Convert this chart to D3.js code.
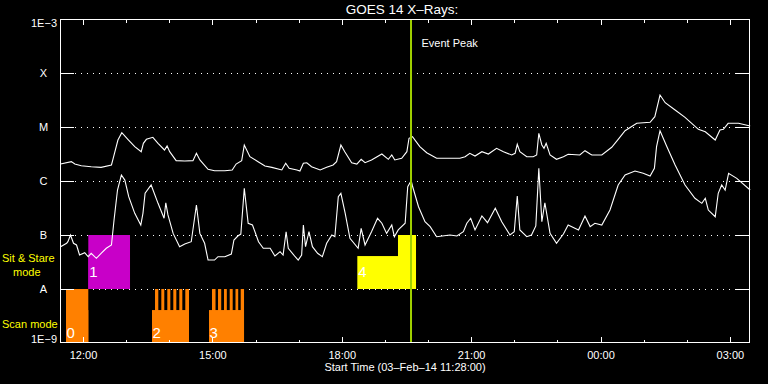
<!DOCTYPE html>
<html>
<head>
<meta charset="utf-8">
<script src="https://cdn.jsdelivr.net/npm/d3@7"></script>
<style>
    body { margin: 0; background: #000; }
    svg { display: block; font-family: "Liberation Sans", Arial, sans-serif; }
</style>
</head>
<body>
<div id="chart"></div>
<script>
// times are decimal hours UT counted from 03-Feb-2014 00:00
const startHour = 11 + 28 / 60;
const spanHours = 16;
const eventPeakHour = 19.606;

// GOES 14, 1-8 A channel [hour, W/m^2]
const longChannel = [
    [11.48, 2.06e-6], [11.73, 2.28e-6], [11.81, 2.06e-6], [11.96, 1.92e-6], [12.19, 1.84e-6],
    [12.42, 1.79e-6], [12.66, 1.98e-6], [12.70, 2.63e-6], [12.81, 5.74e-6], [12.90, 7.84e-6],
    [13.04, 5.92e-6], [13.20, 4.32e-6], [13.35, 3.49e-6], [13.40, 4.99e-6], [13.47, 5.92e-6],
    [13.62, 6.44e-6], [13.74, 4.99e-6], [13.89, 3.75e-6], [13.95, 4.45e-6], [14.01, 3.49e-6],
    [14.16, 2.38e-6], [14.36, 2.35e-6], [14.55, 2.38e-6], [14.63, 3.26e-6], [14.71, 2.45e-6],
    [14.90, 1.65e-6], [15.05, 1.55e-6], [15.29, 1.55e-6], [15.46, 1.60e-6], [15.55, 2.06e-6],
    [15.68, 2.38e-6], [15.74, 4.64e-6], [15.87, 2.82e-6], [16.06, 2.28e-6], [16.22, 1.90e-6],
    [16.38, 1.79e-6], [16.61, 1.60e-6], [16.70, 2.13e-6], [16.78, 1.72e-6], [16.96, 1.60e-6],
    [17.03, 1.53e-6], [17.11, 2.13e-6], [17.19, 2.18e-6], [17.30, 1.84e-6], [17.50, 1.60e-6],
    [17.65, 1.79e-6], [17.80, 1.98e-6], [17.88, 2.28e-6], [17.98, 4.64e-6], [18.07, 3.49e-6],
    [18.23, 2.18e-6], [18.35, 2.06e-6], [18.45, 2.52e-6], [18.54, 2.18e-6], [18.69, 2.45e-6],
    [18.93, 3.16e-6], [19.08, 2.52e-6], [19.16, 3.03e-6], [19.23, 2.45e-6], [19.39, 2.63e-6],
    [19.51, 3.49e-6], [19.56, 6.18e-6], [19.64, 6.60e-6], [19.81, 4.32e-6], [19.97, 3.34e-6],
    [20.20, 2.63e-6], [20.74, 2.63e-6], [20.86, 2.82e-6], [20.97, 3.26e-6], [21.09, 2.90e-6],
    [21.25, 3.49e-6], [21.40, 3.16e-6], [21.59, 4.03e-6], [21.75, 3.49e-6], [21.94, 3.03e-6],
    [22.02, 3.26e-6], [22.07, 4.78e-6], [22.13, 3.49e-6], [22.29, 2.82e-6], [22.44, 2.82e-6],
    [22.52, 3.03e-6], [22.57, 7.64e-6], [22.64, 4.64e-6], [22.69, 4.03e-6], [22.74, 4.99e-6],
    [22.83, 3.03e-6], [22.98, 2.52e-6], [23.14, 2.82e-6], [23.25, 3.12e-6], [23.52, 3.03e-6],
    [23.64, 3.64e-6], [23.76, 3.16e-6], [23.80, 3.03e-6], [24.03, 3.03e-6], [24.26, 4.21e-6],
    [24.41, 5.92e-6], [24.57, 8.53e-6], [24.84, 1.17e-5], [25.15, 1.22e-5], [25.26, 1.55e-5],
    [25.38, 3.91e-5], [25.50, 2.82e-5], [25.73, 2.06e-5], [25.96, 1.51e-5], [26.27, 9.06e-6],
    [26.43, 8.18e-6], [26.66, 5.74e-6], [26.77, 8.80e-6], [26.85, 9.06e-6], [26.96, 1.17e-5],
    [27.20, 1.17e-5], [27.47, 1.04e-5]
];

// GOES 14, 0.5-4 A channel
const shortChannel = [
    [11.48, 6.07e-8], [11.62, 7.02e-8], [11.65, 7.51e-8], [11.71, 1.00e-7], [11.78, 7.02e-8],
    [11.85, 6.53e-8], [11.92, 4.26e-8], [12.04, 4.70e-8], [12.12, 3.96e-8], [12.19, 4.58e-8],
    [12.31, 3.70e-8], [12.42, 4.58e-8], [12.54, 5.67e-8], [12.66, 6.53e-8], [12.72, 1.90e-7],
    [12.80, 6.81e-7], [12.89, 1.29e-6], [12.97, 1.04e-6], [13.06, 5.12e-7], [13.20, 2.52e-7],
    [13.34, 1.53e-7], [13.39, 2.52e-7], [13.44, 5.92e-7], [13.58, 8.43e-7], [13.74, 3.86e-7],
    [13.88, 2.04e-7], [13.92, 3.96e-7], [13.97, 2.35e-7], [14.09, 1.07e-7], [14.24, 6.07e-8],
    [14.36, 6.81e-8], [14.51, 7.51e-8], [14.63, 3.59e-7], [14.71, 1.07e-7], [14.82, 7.02e-8],
    [14.90, 3.44e-8], [15.05, 3.44e-8], [15.13, 3.96e-8], [15.29, 3.96e-8], [15.44, 4.45e-8],
    [15.50, 8.08e-8], [15.59, 9.58e-8], [15.66, 1.04e-7], [15.74, 7.32e-7], [15.83, 1.65e-7],
    [15.93, 1.53e-7], [16.07, 7.51e-8], [16.18, 5.67e-8], [16.34, 5.67e-8], [16.45, 4.08e-8],
    [16.57, 4.91e-8], [16.64, 4.26e-8], [16.71, 1.15e-7], [16.76, 5.67e-8], [16.92, 3.96e-8],
    [16.99, 3.44e-8], [17.07, 4.26e-8], [17.11, 1.53e-7], [17.16, 6.07e-8], [17.24, 1.15e-7],
    [17.32, 6.07e-8], [17.44, 4.58e-8], [17.55, 3.96e-8], [17.65, 7.02e-8], [17.77, 1.00e-7],
    [17.84, 9.30e-8], [17.92, 5.12e-7], [17.98, 5.92e-7], [18.08, 2.52e-7], [18.19, 8.69e-8],
    [18.38, 5.67e-8], [18.45, 1.33e-7], [18.54, 6.53e-8], [18.69, 1.15e-7], [18.83, 2.04e-7],
    [18.93, 1.65e-7], [19.04, 1.07e-7], [19.16, 1.53e-7], [19.22, 9.30e-8], [19.31, 1.24e-7],
    [19.47, 1.65e-7], [19.53, 7.84e-7], [19.61, 1.01e-6], [19.64, 8.08e-7], [19.78, 3.34e-7],
    [19.93, 1.76e-7], [20.05, 1.43e-7], [20.20, 9.30e-8], [20.51, 1.00e-7], [20.67, 9.58e-8],
    [20.82, 1.15e-7], [20.90, 1.65e-7], [20.99, 2.04e-7], [21.09, 1.24e-7], [21.25, 2.25e-7],
    [21.38, 1.69e-7], [21.56, 3.12e-7], [21.71, 1.76e-7], [21.90, 1.00e-7], [22.00, 1.15e-7],
    [22.07, 5.27e-7], [22.13, 1.24e-7], [22.29, 9.30e-8], [22.40, 1.00e-7], [22.50, 1.47e-7],
    [22.57, 1.72e-6], [22.64, 1.76e-7], [22.71, 3.96e-7], [22.83, 1.07e-7], [22.98, 7.02e-8],
    [23.14, 1.04e-7], [23.25, 1.53e-7], [23.49, 1.24e-7], [23.64, 2.25e-7], [23.76, 1.43e-7],
    [23.87, 1.65e-7], [24.03, 1.53e-7], [24.22, 2.90e-7], [24.41, 8.43e-7], [24.57, 1.29e-6],
    [24.80, 1.53e-6], [24.99, 1.39e-6], [25.15, 1.24e-6], [25.25, 1.72e-6], [25.30, 4.32e-6],
    [25.38, 8.53e-6], [25.54, 4.32e-6], [25.73, 1.98e-6], [25.96, 8.43e-7], [26.19, 4.78e-7],
    [26.35, 3.86e-7], [26.43, 4.78e-7], [26.50, 2.90e-7], [26.66, 2.18e-7], [26.73, 5.92e-7],
    [26.81, 8.43e-7], [26.89, 6.81e-7], [26.97, 1.39e-6], [27.16, 1.12e-6], [27.47, 6.81e-7]
];

const classNames = ['X', 'M', 'C', 'B', 'A'];
const classLevels = [1e-4, 1e-5, 1e-6, 1e-7, 1e-8];

// IRIS observations: whole span, and the rasters / pointings inside it
const scanObs = [
    { label: '0', start: 11.606, end: 12.123, rasters: [[11.606, 12.123]] },
    { label: '2', start: 13.600, end: 14.458,
      rasters: [[13.670, 13.746], [13.816, 13.885], [13.955, 14.025], [14.094, 14.164], [14.233, 14.303], [14.372, 14.458]] },
    { label: '3', start: 14.922, end: 15.734,
      rasters: [[14.991, 15.073], [15.131, 15.205], [15.270, 15.335], [15.402, 15.471], [15.536, 15.599], [15.657, 15.734]] }
];
const stareObs = [
    { label: '1', start: 12.123, end: 13.090, rasters: [[12.123, 13.090]] },
    { label: '4', start: 18.361, end: 19.722, rasters: [[19.304, 19.722]] }
];
const stareColours = ['#c800c8', '#ffff00'];

const width = 768;
const height = 384;
const margin = { top: 19, right: 18, bottom: 41, left: 60 };

const toDate = h => new Date(Date.UTC(2014, 1, 3) + h * 3600e3);

const svg = d3.select('#chart')
    .append('svg')
    .attr('width', width)
    .attr('height', height);

svg.append('rect')
    .attr('width', width)
    .attr('height', height)
    .attr('fill', '#000');

const x = d3.scaleUtc()
    .domain([toDate(startHour), toDate(startHour + spanHours)])
    .range([margin.left, width - margin.right]);

const y = d3.scaleLog()
    .domain([1e-9, 1e-3])
    .range([height - margin.bottom, margin.top]);

// dotted class lines
svg.append('g')
    .selectAll('line')
    .data(classLevels)
    .join('line')
    .attr('x1', margin.left + 15)
    .attr('x2', width - margin.right - 14)
    .attr('y1', d => Math.round(y(d)) + 0.5)
    .attr('y2', d => Math.round(y(d)) + 0.5)
    .attr('stroke', '#fff')
    .attr('stroke-dasharray', '1,5')
    .attr('shape-rendering', 'crispEdges');

// observation blocks
function drawObs(obs, lo, colour) {
    const hi = lo * 10;
    const mid = lo * Math.pow(10, 0.61);
    const g = svg.append('g');
    obs.forEach((o, i) => {
        const c = typeof colour === 'function' ? colour(i) : colour;
        g.append('rect')
            .attr('x', x(toDate(o.start)))
            .attr('width', x(toDate(o.end)) - x(toDate(o.start)))
            .attr('y', y(mid))
            .attr('height', y(lo) - y(mid))
            .attr('fill', c);
        g.selectAll(null)
            .data(o.rasters)
            .join('rect')
            .attr('x', d => x(toDate(d[0])))
            .attr('width', d => x(toDate(d[1])) - x(toDate(d[0])))
            .attr('y', y(hi))
            .attr('height', y(lo) - y(hi))
            .attr('fill', c);
    });
    return g;
}

drawObs(scanObs, 1e-9, '#ff8000');
drawObs(stareObs, 1e-8, i => stareColours[i]);

svg.append('g')
    .selectAll('text')
    .data(scanObs)
    .join('text')
    .attr('x', d => x(toDate(d.start)) + 0.5)
    .attr('y', y(1e-9) - 5)
    .attr('fill', '#fff')
    .attr('font-size', 15)
    .text(d => d.label);

svg.append('g')
    .selectAll('text')
    .data(stareObs)
    .join('text')
    .attr('x', d => x(toDate(d.start)) + 1)
    .attr('y', y(1e-8) - 12)
    .attr('fill', '#fff')
    .attr('font-size', 15)
    .text(d => d.label);

// light curves
const line = d3.line()
    .x(d => x(toDate(d[0])))
    .y(d => y(d[1]));

[longChannel, shortChannel].forEach(series => {
    svg.append('path')
        .datum(series)
        .attr('d', line)
        .attr('fill', 'none')
        .attr('stroke', '#fff')
        .attr('stroke-width', 1.1);
});

// event peak
const peakX = x(toDate(eventPeakHour));
svg.append('line')
    .attr('x1', peakX)
    .attr('x2', peakX)
    .attr('y1', margin.top)
    .attr('y2', height - margin.bottom)
    .attr('stroke', '#a0d000')
    .attr('stroke-width', 2);

svg.append('text')
    .attr('x', peakX + 10.5)
    .attr('y', 46.5)
    .attr('fill', '#fff')
    .attr('font-size', 11)
    .text('Event Peak');

// frame and ticks
svg.append('rect')
    .attr('x', margin.left + 0.5)
    .attr('y', margin.top + 0.5)
    .attr('width', width - margin.left - margin.right - 1)
    .attr('height', height - margin.top - margin.bottom - 1)
    .attr('fill', 'none')
    .attr('stroke', '#fff')
    .attr('shape-rendering', 'crispEdges');

function styleAxis(g) {
    g.select('.domain').remove();
    g.selectAll('line').attr('stroke', '#fff').attr('shape-rendering', 'crispEdges');
    g.selectAll('text').attr('fill', '#fff');
    g.attr('font-family', null).attr('font-size', 11);
}

const bottom = height - margin.bottom;
svg.append('g')
    .attr('transform', `translate(0,${bottom})`)
    .call(d3.axisBottom(x).ticks(d3.utcHour.every(1)).tickSize(-3).tickFormat(''))
    .call(styleAxis);
svg.append('g')
    .attr('transform', `translate(0,${bottom})`)
    .call(d3.axisBottom(x).ticks(d3.utcHour.every(3)).tickSize(-6).tickPadding(8)
        .tickFormat(d3.utcFormat('%H:%M')))
    .call(styleAxis);
svg.append('g')
    .attr('transform', `translate(0,${margin.top})`)
    .call(d3.axisTop(x).ticks(d3.utcHour.every(1)).tickSize(-4).tickFormat(''))
    .call(styleAxis);
svg.append('g')
    .attr('transform', `translate(0,${margin.top})`)
    .call(d3.axisTop(x).ticks(d3.utcHour.every(3)).tickSize(-6).tickFormat(''))
    .call(styleAxis);

svg.append('g')
    .attr('transform', `translate(${margin.left},0)`)
    .call(d3.axisLeft(y).tickValues(classLevels).tickSize(-14).tickFormat(''))
    .call(styleAxis);
svg.append('g')
    .attr('transform', `translate(${width - margin.right},0)`)
    .call(d3.axisRight(y).tickValues(classLevels).tickSize(-14).tickFormat(''))
    .call(styleAxis);

// y labels
svg.append('g')
    .selectAll('text')
    .data(classNames)
    .join('text')
    .attr('x', 43.5)
    .attr('y', (d, i) => y(classLevels[i]) + 4)
    .attr('text-anchor', 'middle')
    .attr('fill', '#fff')
    .attr('font-size', 11)
    .text(d => d);

svg.append('text')
    .attr('x', 57).attr('y', y(1e-3) + 8)
    .attr('text-anchor', 'end').attr('fill', '#fff').attr('font-size', 11)
    .text('1E\u22123');
svg.append('text')
    .attr('x', 57).attr('y', y(1e-9))
    .attr('text-anchor', 'end').attr('fill', '#fff').attr('font-size', 11)
    .text('1E\u22129');

// mode labels
const modeText = svg.append('g').attr('fill', '#ffff00').attr('font-size', 11);
modeText.append('text').attr('x', 2).attr('y', 262).text('Sit & Stare');
modeText.append('text').attr('x', 13).attr('y', 276).text('mode');
modeText.append('text').attr('x', 2).attr('y', 328).text('Scan mode');

// titles
svg.append('text')
    .attr('x', 402)
    .attr('y', 14)
    .attr('text-anchor', 'middle')
    .attr('fill', '#fff')
    .attr('font-size', 13.5)
    .text('GOES 14 X\u2013Rays:');

svg.append('text')
    .attr('x', 405)
    .attr('y', 371)
    .attr('text-anchor', 'middle')
    .attr('fill', '#fff')
    .attr('font-size', 11)
    .text('Start Time (03\u2013Feb\u201314 11:28:00)');
</script>
</body>
</html>
